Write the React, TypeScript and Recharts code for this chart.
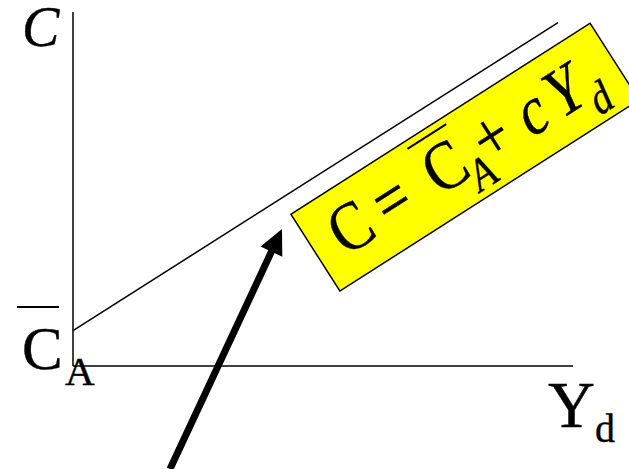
import { ComposedChart, Line, XAxis, YAxis, ReferenceLine, ReferenceDot } from 'recharts';

// consumption function C = C_A + c * Yd
const incomeYd = [0, 97];
const consumptionC = [10, 97];

// annotation anchors, in data units
const arrowFrom = { x: 19.4, y: -29.1 };
const arrowTo = { x: 41.8, y: 38.7 };
const boxCenter = { x: 78.4, y: 59 };

const chartData = incomeYd.map((yd, i) => ({ yd, c: consumptionC[i] }));

const serif = '"Liberation Serif", "Times New Roman", serif';

const Arrow = (props: any) => {
    const { x1, y1, x2, y2 } = props;
    const dx = x2 - x1;
    const dy = y2 - y1;
    const len = Math.sqrt(dx * dx + dy * dy);
    const ux = dx / len;
    const uy = dy / len;
    const headLen = 25;
    const headHalf = 12;
    const bx = x2 - ux * headLen;
    const by = y2 - uy * headLen;
    const pts = [
        `${x2},${y2}`,
        `${bx - uy * headHalf},${by + ux * headHalf}`,
        `${bx + uy * headHalf},${by - ux * headHalf}`,
    ].join(' ');
    return (
        <g>
            <line x1={x1} y1={y1} x2={bx + ux * 2} y2={by + uy * 2} stroke="#000" strokeWidth={7} />
            <polygon points={pts} fill="#000" />
        </g>
    );
};

// glyphs are a little taller than the font, like the original slide
const sy = 1.15;

const EquationBox = (props: any) => {
    const { cx, cy } = props;
    return (
        <g transform={`translate(${cx},${cy}) rotate(-32.57)`} fontFamily={serif}>
            <rect x={-177.5} y={-45.5} width={355} height={91} fill="#ffff00" stroke="#000" strokeWidth={1.5} />
            <g fontSize={60} textAnchor="middle" fill="#000" stroke="#000" strokeWidth={0.4} transform={`scale(1,${sy})`}>
                <text x={-134} y={20 / sy}>C</text>
                <text x={-85} y={19 / sy}>=</text>
                <text x={-22} y={20 / sy}>C</text>
                <text x={6} y={38 / sy} fontSize={40} fontStyle="italic">A</text>
                <text x={33} y={19 / sy}>+</text>
                <text x={80} y={20 / sy} fontStyle="italic">c</text>
                <text x={119} y={20 / sy} fontStyle="italic">Y</text>
                <text x={146} y={38 / sy} fontSize={40} fontStyle="italic">d</text>
            </g>
            <line x1={-44} y1={-38} x2={2} y2={-38} stroke="#000" strokeWidth={2} />
        </g>
    );
};

export default function App() {
    return (
        <div style={{ position: 'absolute', left: 0, top: 0, background: '#fff' }}>
            <ComposedChart
                width={629}
                height={469}
                data={chartData}
                margin={{ top: 12, right: 56, bottom: 102, left: 72 }}
            >
                <XAxis
                    type="number"
                    dataKey="yd"
                    domain={[0, 100]}
                    tick={false}
                    tickLine={false}
                    height={1}
                    axisLine={{ stroke: '#000', strokeWidth: 1.5 }}
                />
                <YAxis
                    type="number"
                    domain={[0, 100]}
                    tick={false}
                    tickLine={false}
                    width={1}
                    axisLine={{ stroke: '#000', strokeWidth: 1.5 }}
                />
                <Line
                    type="linear"
                    dataKey="c"
                    stroke="#000"
                    strokeWidth={1.5}
                    dot={false}
                    isAnimationActive={false}
                />
                <ReferenceLine
                    segment={[arrowFrom, arrowTo]}
                    ifOverflow="visible"
                    shape={Arrow}
                />
                <ReferenceDot
                    x={boxCenter.x}
                    y={boxCenter.y}
                    ifOverflow="visible"
                    shape={EquationBox}
                />
                <g fontFamily={serif} fill="#000" stroke="#000" strokeWidth={0.4}>
                    <text x={22} y={46} fontSize={56} fontStyle="italic">C</text>
                    <line x1={17} y1={307} x2={59} y2={307} strokeWidth={2} />
                    <text x={22} y={369} fontSize={61}>C</text>
                    <text x={65} y={385} fontSize={41}>A</text>
                    <text x={548} y={427} fontSize={65}>Y</text>
                    <text x={595} y={442} fontSize={40}>d</text>
                </g>
            </ComposedChart>
        </div>
    );
}
